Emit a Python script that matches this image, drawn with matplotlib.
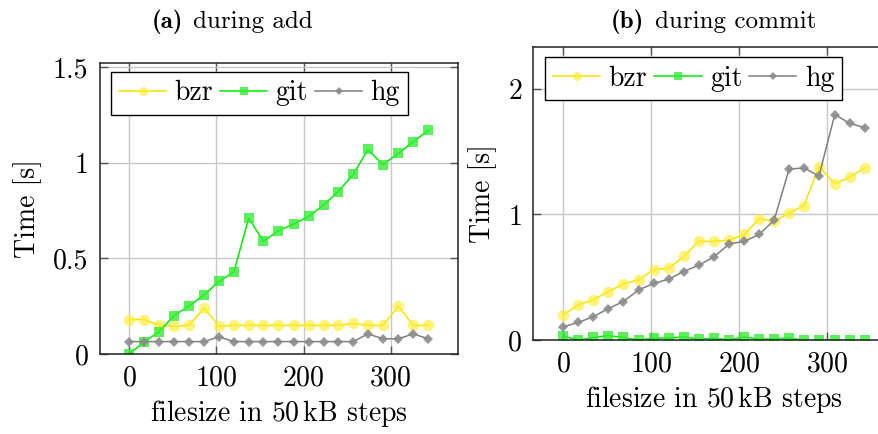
import numpy as np
import matplotlib
matplotlib.use("Agg")
import matplotlib.pyplot as plt

plt.rcParams["font.family"] = ["cmr10", "DejaVu Serif"]
plt.rcParams["mathtext.fontset"] = "cm"
plt.rcParams["axes.unicode_minus"] = False
plt.rcParams["axes.formatter.use_mathtext"] = True

# filesize steps (x axis)
steps = [0, 17, 34, 51, 68, 86, 103, 120, 137, 154, 171,
         189, 206, 223, 240, 257, 274, 291, 309, 326, 343]

# (a) during add
add_bzr = [0.18, 0.18, 0.15, 0.145, 0.15, 0.24, 0.145, 0.15, 0.15, 0.15, 0.15,
           0.15, 0.15, 0.15, 0.15, 0.16, 0.15, 0.15, 0.25, 0.15, 0.15]
add_git = [0.0, 0.065, 0.115, 0.2, 0.25, 0.31, 0.38, 0.43, 0.71, 0.59, 0.645,
           0.68, 0.72, 0.78, 0.85, 0.94, 1.07, 0.99, 1.05, 1.11, 1.17]
add_hg = [0.065, 0.065, 0.065, 0.065, 0.065, 0.065, 0.09, 0.065, 0.065, 0.065, 0.065,
          0.065, 0.065, 0.065, 0.065, 0.065, 0.105, 0.08, 0.08, 0.105, 0.08]

# (b) during commit
com_bzr = [0.2, 0.28, 0.32, 0.385, 0.445, 0.48, 0.56, 0.57, 0.665, 0.785, 0.785,
           0.795, 0.84, 0.965, 0.945, 1.01, 1.07, 1.38, 1.245, 1.295, 1.37]
com_git = [0.03, 0.0, 0.02, 0.035, 0.02, 0.0, 0.015, 0.015, 0.025, 0.005, 0.015,
           0.0, 0.025, 0.005, 0.01, 0.015, 0.0, 0.0, 0.0, 0.0, 0.0]
com_hg = [0.105, 0.14, 0.185, 0.25, 0.305, 0.4, 0.45, 0.485, 0.545, 0.595, 0.66,
          0.765, 0.785, 0.84, 0.955, 1.36, 1.37, 1.305, 1.795, 1.725, 1.69]

series = [
    ("bzr", "#f5e400", (1.0, 0.93, 0.2, 0.65), "o", 8.2),
    ("git", "#00ee00", (0.2, 0.93, 0.2, 0.8), "s", 7.2),
    ("hg", "#808080", (0.55, 0.55, 0.55, 0.9), "D", 5.0),
]


def draw(ax, data, yticks, ylim):
    for (name, lc, mc, mk, ms), ys in zip(series, data):
        ax.plot(steps, ys, color=lc, lw=1.1, marker=mk, ms=ms, mew=0,
                markerfacecolor=mc, label=name)
    ax.set_xlim(-34.3, 377.3)
    ax.set_ylim(*ylim)
    ax.set_xticks([0, 100, 200, 300])
    ax.set_yticks(yticks)
    ax.set_yticklabels([f"{t:g}" for t in yticks])
    ax.grid(True, color="#c8c8c8", lw=1.0)
    ax.set_axisbelow(True)
    ax.tick_params(direction="in", length=6, width=1, color="#555555",
                   top=True, right=True, labelsize=20, pad=8)
    for s in ax.spines.values():
        s.set_linewidth(1.1)
        s.set_color("#222222")
    ax.set_xlabel(r"filesize in 50$\,$kB steps", fontsize=20, labelpad=5)
    ax.set_ylabel("Time [s]", fontsize=20, labelpad=8)


fig = plt.figure(figsize=(8.79, 4.34), dpi=100)
ax1 = fig.add_axes([0.1132, 0.1843, 0.4078, 0.6712])
ax2 = fig.add_axes([0.6067, 0.2166, 0.4112, 0.6744])

draw(ax1, [add_bzr, add_git, add_hg], [0, 0.5, 1, 1.5], (0, 1.524))
draw(ax2, [com_bzr, com_git, com_hg], [0, 1, 2], (0, 2.33))

for ax, anchor in [(ax1, (0.031, 0.969)), (ax2, (0.032, 0.967))]:
    leg = ax.legend(loc="upper left", bbox_to_anchor=anchor, borderaxespad=0,
                    ncol=3, fontsize=20, frameon=True, fancybox=False,
                    framealpha=1, edgecolor="black", handlelength=1.7,
                    handletextpad=0.3, columnspacing=0.25, borderpad=0.3,
                    markerscale=0.8)
    leg.get_frame().set_linewidth(1.0)

# captions: bold label + regular text
for tag_end, text_start, tag, caption in [(183, 193, "(a)", "during add"),
                                          (644, 655, "(b)", "during commit")]:
    fig.text(tag_end / 879, 1 - 22 / 434, tag, ha="right", va="center",
             fontsize=18, family=["cmb10", "DejaVu Serif"])
    fig.text(text_start / 879, 1 - 22 / 434, caption, ha="left", va="center",
             fontsize=18)

fig.savefig("out.png", dpi=100)
